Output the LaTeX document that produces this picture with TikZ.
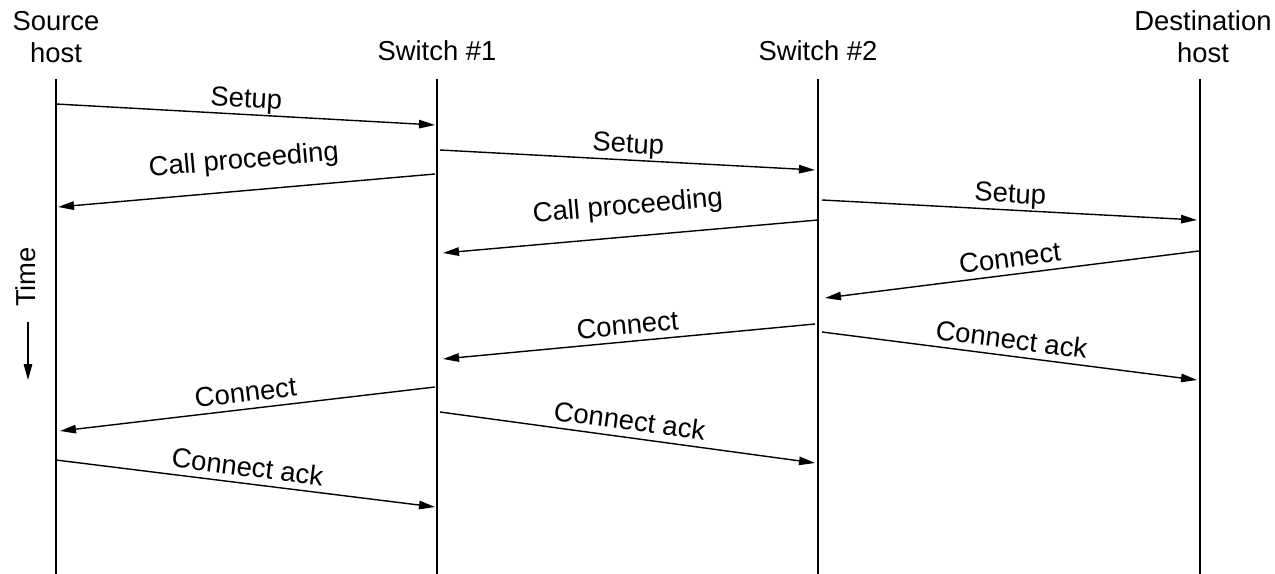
\documentclass[tikz,border=0pt]{standalone}
\usepackage{fontspec}
\setmainfont{Liberation Sans}
\usetikzlibrary{arrows.meta}

\begin{document}
\begin{tikzpicture}[x=0.02cm, y=-0.02cm,
		every node/.style={font=\fontsize{15.6}{18.2}\selectfont},
		head/.style={anchor=south, inner sep=0pt, align=center},
		msg/.style={-{Triangle[length=0.32cm, width=0.17cm]}, line width=0.8pt},
		lbl/.style={midway, sloped, above=0.13cm, inner sep=0pt, text depth=0pt}]
		\useasboundingbox (0,0) rectangle (1275,574);
		% the four parties
		\node[head] (src) at (56,63) {Source\\host};
		\node[head] (swa) at (437,61) {Switch \#1};
		\node[head] (swb) at (818,61) {Switch \#2};
		\node[head] (dst) at (1203,63) {Destination\\host};
		\foreach \n/\x in {src/56, swa/437, swb/818, dst/1200} {
			\coordinate (\n top) at (\x,79);
			\coordinate (\n bot) at (\x,574);
			\draw[line width=0.8pt] (\n top) -- (\n bot);
		}
		% time axis
		\node[rotate=90, anchor=base, inner sep=0pt] (time) at (35,277) {Time};
		\coordinate (t0) at (28,322);
		\coordinate (t1) at (28,380);
		\draw[msg] (t0) -- (t1);
		% message end points
		\coordinate (m1a) at (56,104);   \coordinate (m1b) at (435,125);
		\coordinate (m2a) at (440,150);  \coordinate (m2b) at (815,170);
		\coordinate (m3a) at (435,174);  \coordinate (m3b) at (58,207);
		\coordinate (m4a) at (822,200);  \coordinate (m4b) at (1197,220);
		\coordinate (m5a) at (818,220);  \coordinate (m5b) at (443,253);
		\coordinate (m6a) at (1199,251); \coordinate (m6b) at (825,298);
		\coordinate (m7a) at (815,324);  \coordinate (m7b) at (443,359);
		\coordinate (m8a) at (822,332);  \coordinate (m8b) at (1197,380);
		\coordinate (m9a) at (435,387);  \coordinate (m9b) at (60,431);
		\coordinate (m10a) at (440,412); \coordinate (m10b) at (815,463);
		\coordinate (m11a) at (56,460);  \coordinate (m11b) at (435,507);
		% messages
		\draw[msg] (m1a) -- (m1b) node[lbl] {Setup};
		\draw[msg] (m2a) -- (m2b) node[lbl] {Setup};
		\draw[msg] (m3a) -- (m3b) node[lbl, above=0.3cm] {Call proceeding};
		\draw[msg] (m4a) -- (m4b) node[lbl] {Setup};
		\draw[msg] (m5a) -- (m5b) node[lbl, above=0.3cm] {Call proceeding};
		\draw[msg] (m6a) -- (m6b) node[lbl] {Connect};
		\draw[msg] (m7a) -- (m7b) node[lbl] {Connect};
		\draw[msg] (m8a) -- (m8b) node[lbl] {Connect ack};
		\draw[msg] (m9a) -- (m9b) node[lbl] {Connect};
		\draw[msg] (m10a) -- (m10b) node[lbl] {Connect ack};
		\draw[msg] (m11a) -- (m11b) node[lbl] {Connect ack};
	\end{tikzpicture}
\end{document}
